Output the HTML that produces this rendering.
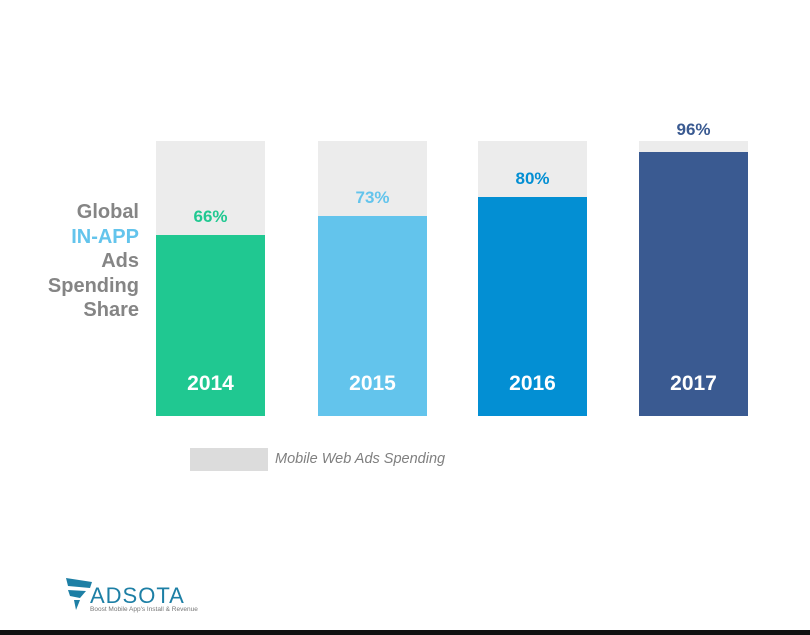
<!DOCTYPE html>
<html><head><style>
body{margin:0;width:810px;height:635px;background:#fff;position:relative;overflow:hidden;font-family:"Liberation Sans",sans-serif}
.a{position:absolute}
.g{background:#ececec}
.lbl{position:absolute;right:671px;top:200px;text-align:right;font-weight:bold;font-size:20px;line-height:24.5px;color:#858585}
.pct{position:absolute;width:109px;text-align:center;font-weight:bold;font-size:17px}
.yr{position:absolute;width:109px;text-align:center;font-weight:bold;font-size:21px;color:#fff;top:372px}
</style></head><body>
<div class="lbl">Global<br><span style="color:#63c4ec">IN-APP</span><br>Ads<br>Spending<br>Share</div>

<div class="a g" style="left:156px;top:141px;width:109px;height:275px"></div>
<div class="a" style="left:156px;top:235px;width:109px;height:181px;background:#20c891"></div>
<div class="pct" style="left:156px;top:207px;color:#20c891">66%</div>
<div class="yr" style="left:156px">2014</div>

<div class="a g" style="left:318px;top:141px;width:109px;height:275px"></div>
<div class="a" style="left:318px;top:216px;width:109px;height:200px;background:#63c4ec"></div>
<div class="pct" style="left:318px;top:188px;color:#63c4ec">73%</div>
<div class="yr" style="left:318px">2015</div>

<div class="a g" style="left:478px;top:141px;width:109px;height:275px"></div>
<div class="a" style="left:478px;top:197px;width:109px;height:219px;background:#038fd3"></div>
<div class="pct" style="left:478px;top:169px;color:#038fd3">80%</div>
<div class="yr" style="left:478px">2016</div>

<div class="a g" style="left:639px;top:141px;width:109px;height:275px"></div>
<div class="a" style="left:639px;top:152px;width:109px;height:264px;background:#3a5a91"></div>
<div class="pct" style="left:639px;top:120px;color:#3a5a91">96%</div>
<div class="yr" style="left:639px">2017</div>

<div class="a" style="left:190px;top:448px;width:78px;height:23px;background:#dcdcdc"></div>
<div class="a" style="left:275px;top:451px;font-size:14.5px;font-style:italic;color:#808080">Mobile Web Ads Spending</div>

<svg class="a" style="left:64px;top:574px" width="40" height="40" viewBox="0 0 40 40">
<path d="M2 4 L28 8 L26 14 L4 12 Z" fill="#1d7fa5"/>
<path d="M4 16 L22 17 L16 24 L6 22 Z" fill="#1d7fa5"/>
<path d="M10 26 L16 26 L12 36 Z" fill="#1d7fa5"/>
</svg>
<div class="a" style="left:90px;top:583px;font-size:22px;color:#1d7fa5;letter-spacing:1px">ADSOTA</div>
<div class="a" style="left:90px;top:606px;font-size:6.5px;color:#777">Boost Mobile App's Install &amp; Revenue</div>

<div class="a" style="left:0;top:630px;width:810px;height:5px;background:#111"></div>
</body></html>
